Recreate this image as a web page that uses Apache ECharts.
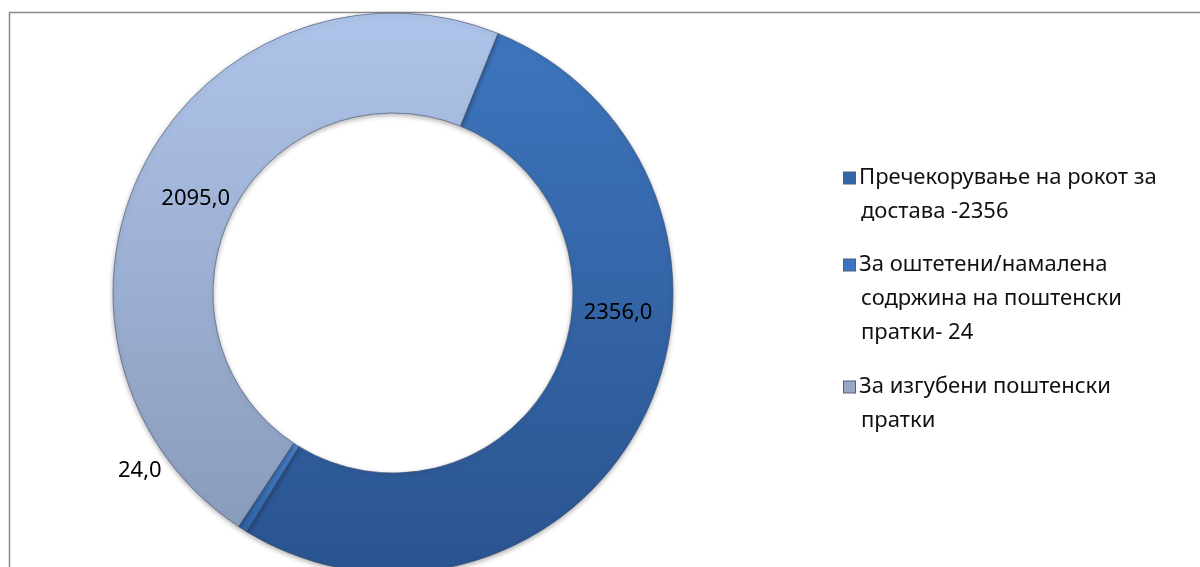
<!DOCTYPE html>
<html>
<head>
<meta charset="utf-8">
<script src="https://cdn.jsdelivr.net/npm/echarts@6/dist/echarts.min.js"></script>
<style>
  html, body { margin: 0; padding: 0; background: #fff; }
  #chart { width: 1200px; height: 567px; }
</style>
</head>
<body>
<div id="chart"></div>
<script>
// податоци
const categories = [
  'Пречекорување на рокот за достава -2356',
  'За оштетени/намалена содржина на поштенски пратки- 24',
  'За изгубени поштенски пратки'
]
const values = [2356, 24, 2095]
// легенда во редови
const legendLines = [
  ['Пречекорување на рокот за', 'достава -2356'],
  ['За оштетени/намалена', 'содржина на поштенски', 'пратки- 24'],
  ['За изгубени поштенски', 'пратки']
]

const colors = [
  { top: '#3d75bd', bottom: '#2a5490', icon: '#3166aa' },
  { top: '#4a84cf', bottom: '#2f64a8', icon: '#3a74c2' },
  { top: '#afc4ea', bottom: '#8a9cbc', icon: '#97a8c8' }
]
const legendTops = [178, 265, 387] // центар на првиот ред
const labelShift = [[17, -85], [-128, -19], [9, 14]]
const LH = 34
const FONT = 'Noto Sans'
const FS = 22

function grad(c) {
  return {
    type: 'linear', x: 0, y: 0, x2: 0, y2: 1,
    colorStops: [{ offset: 0, color: c.top }, { offset: 1, color: c.bottom }]
  }
}

const chart = echarts.init(document.getElementById('chart'))

// секоја ставка од легендата посебно, маркерот е во првиот ред
const legends = categories.map((name, i) => ({
  data: [name],
  orient: 'vertical',
  left: 838,
  top: legendTops[i] - LH / 2,
  padding: 0,
  itemWidth: 0,
  itemHeight: 0,
  icon: 'rect',
  formatter: () => legendLines[i]
    .map((line, k) => (k === 0 ? '{m|}{g|}' : '{s|}') + '{t|' + line + '}')
    .join('\n'),
  textStyle: {
    fontFamily: FONT,
    fontSize: FS,
    color: '#111',
    lineHeight: LH,
    rich: {
      t: { fontFamily: FONT, fontSize: FS, color: '#111', lineHeight: LH },
      m: {
        width: 11, height: 11, lineHeight: LH,
        backgroundColor: colors[i].icon,
        borderColor: 'rgba(40,55,85,0.8)', borderWidth: 1
      },
      g: { width: 4, lineHeight: LH },
      s: { width: 17, lineHeight: LH }
    }
  }
}))

chart.setOption({
  animation: false,
  backgroundColor: '#fff',
  graphic: [{
    type: 'rect',
    shape: { x: 9.5, y: 12.5, width: 1300, height: 700 },
    style: { fill: 'none', stroke: '#8a8a8a', lineWidth: 1.5 },
    silent: true
  }],
  legend: legends,
  series: [{
    type: 'pie',
    center: [393, 293],
    radius: [180, 280],
    startAngle: 68,
    clockwise: true,
    itemStyle: {
      borderColor: 'rgba(55,70,100,0.7)',
      borderWidth: 0.8,
      shadowBlur: 5,
      shadowColor: 'rgba(0,0,0,0.3)',
      shadowOffsetY: 2
    },
    label: {
      show: true,
      position: 'inside',
      fontFamily: FONT,
      fontSize: FS,
      color: '#000',
      formatter: p => p.value.toFixed(1).replace('.', ',')
    },
    labelLine: { show: false },
    labelLayout: p => ({ dx: labelShift[p.dataIndex][0], dy: labelShift[p.dataIndex][1] }),
    emphasis: { disabled: true },
    data: categories.map((name, i) => ({
      name: name,
      value: values[i],
      itemStyle: { color: grad(colors[i]) }
    }))
  }]
})
</script>
</body>
</html>
